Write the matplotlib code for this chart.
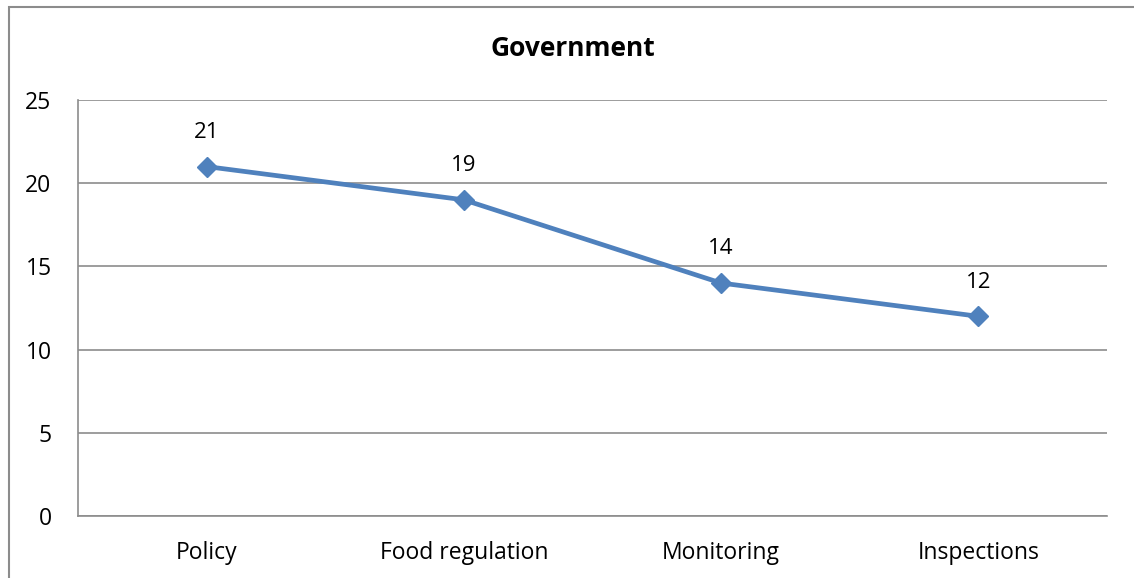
import matplotlib
matplotlib.use('Agg')
import matplotlib.pyplot as plt
from matplotlib.patches import Rectangle

plt.rcParams['font.family'] = ['Open Sans', 'DejaVu Sans']

# data
categories = ['Policy', 'Food regulation', 'Monitoring', 'Inspections']
values = [21, 19, 14, 12]
y_ticks = [0, 5, 10, 15, 20, 25]

fig = plt.figure(figsize=(11.34, 5.78), dpi=100)
fig.patch.set_facecolor('white')

# outer chart frame (cut off at right and bottom like the reference)
fig.patches.append(Rectangle((9 / 1134, -0.05), 1.2, 1 - 7 / 578 + 0.05,
                             transform=fig.transFigure, fill=False,
                             edgecolor='#8c8c8c', linewidth=1.5))

ax = fig.add_axes([78 / 1134, 1 - 516 / 578, (1107 - 78) / 1134, (516 - 100) / 578])

x = list(range(len(categories)))
ax.plot(x, values, color='#4F81BD', linewidth=3.4, marker='D', markersize=10.5,
        markerfacecolor='#4F81BD', markeredgecolor='#4F81BD', zorder=3)

for xi, v in zip(x, values):
    ax.annotate(str(v), (xi, v), xytext=(0, 17), textcoords='offset points',
                ha='center', va='bottom', fontsize=16, color='black')

ax.set_xlim(-0.5, len(categories) - 0.5)
ax.set_ylim(0, 25)
ax.set_yticks(y_ticks)
ax.set_xticks(x)
ax.set_xticklabels(categories)
ax.tick_params(axis='both', length=0, labelsize=16.5, colors='black')
ax.tick_params(axis='x', pad=18)
ax.tick_params(axis='y', pad=19)

ax.yaxis.grid(True, color='#8c8c8c', linewidth=1.2)
ax.set_axisbelow(True)
for side in ['top', 'right']:
    ax.spines[side].set_visible(False)
for side in ['left', 'bottom']:
    ax.spines[side].set_color('#8c8c8c')
    ax.spines[side].set_linewidth(1.2)

fig.text(573 / 1134, 1 - 48 / 578, 'Government', ha='center', va='center',
         fontsize=19, fontweight='bold')

fig.savefig('out.png', dpi=100, facecolor='white')
